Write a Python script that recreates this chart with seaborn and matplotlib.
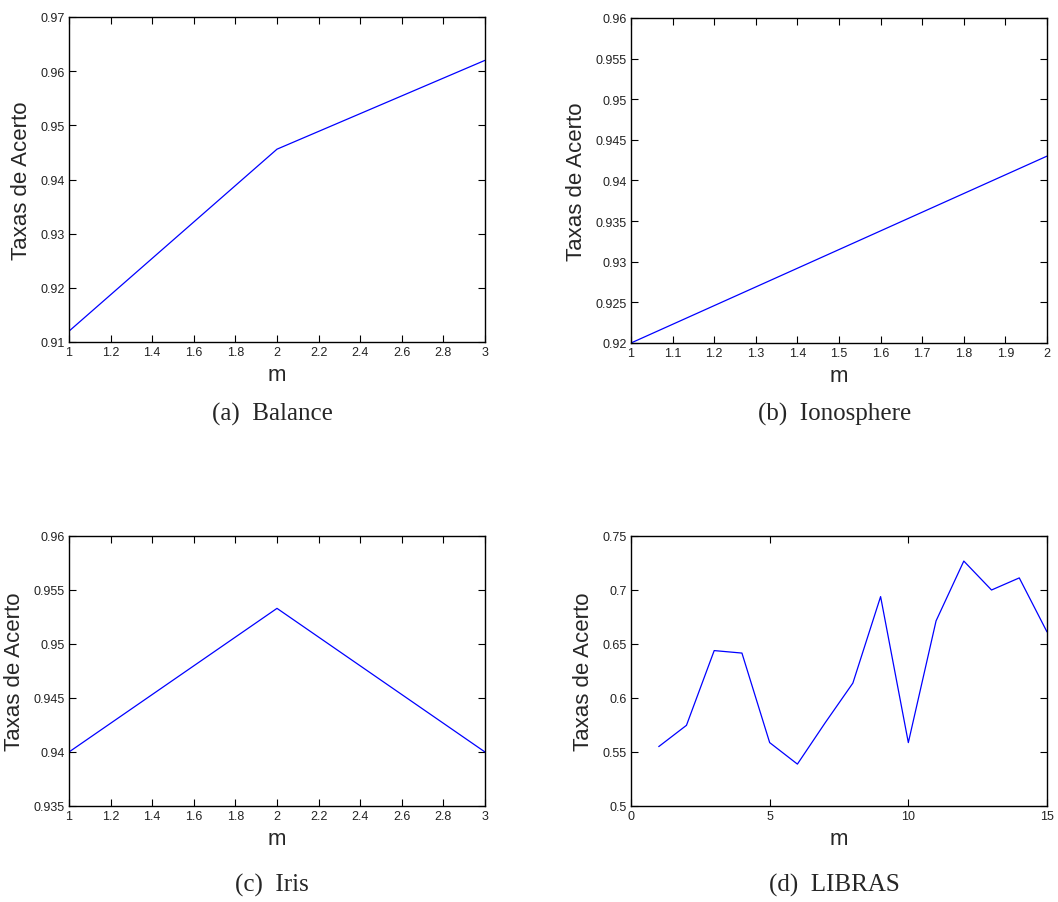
import matplotlib
matplotlib.use("Agg")
import matplotlib.pyplot as plt
import seaborn as sns
import pandas as pd
from matplotlib.ticker import MultipleLocator, FuncFormatter

sns.set_style("ticks")
plt.rcParams['font.family'] = ['Liberation Sans', 'DejaVu Sans']

# Data
balance_m = [1, 2, 3]
balance_acc = [0.912, 0.9456, 0.962]

iono_m = [1, 2]
iono_acc = [0.920, 0.943]

iris_m = [1, 2, 3]
iris_acc = [0.940, 0.9533, 0.940]

libras_m = list(range(1, 16))
libras_acc = [0.555, 0.5747, 0.6439, 0.6416, 0.5587, 0.5388, 0.577, 0.6138,
              0.6939, 0.5587, 0.6714, 0.7268, 0.700, 0.7112, 0.6612]

captions = ["(a)  Balance", "(b)  Ionosphere", "(c)  Iris", "(d)  LIBRAS"]

W, H = 1058, 903
fig = plt.figure(figsize=(W / 100, H / 100), dpi=100)

def px_axes(left, top, right, bottom):
    return fig.add_axes([left / W, 1 - bottom / H, (right - left) / W, (bottom - top) / H])

panels = [
    (px_axes(69, 18, 485, 343), balance_m, balance_acc, (1, 3), 0.2, (0.91, 0.97), 0.01, (272, 414)),
    (px_axes(631, 19, 1047, 344), iono_m, iono_acc, (1, 2), 0.1, (0.92, 0.96), 0.005, (835, 414)),
    (px_axes(69, 537, 485, 807), iris_m, iris_acc, (1, 3), 0.2, (0.935, 0.96), 0.005, (272, 885)),
    (px_axes(631, 537, 1047, 807), libras_m, libras_acc, (0, 15), 5, (0.5, 0.75), 0.05, (834, 885)),
]

fmt = FuncFormatter(lambda v, p: "%g" % round(v, 6))

for i, (ax, xs, ys, xl, xstep, yl, ystep, cap) in enumerate(panels):
    df = pd.DataFrame({"m": xs, "acc": ys})
    sns.lineplot(data=df, x="m", y="acc", ax=ax, color=(0, 0, 1), linewidth=0.9)
    ax.set_xlim(*xl)
    ax.set_ylim(*yl)
    ax.xaxis.set_major_locator(MultipleLocator(xstep))
    ax.yaxis.set_major_locator(MultipleLocator(ystep))
    ax.xaxis.set_major_formatter(fmt)
    ax.yaxis.set_major_formatter(fmt)
    ax.tick_params(direction="in", top=True, right=True, length=5, width=0.8,
                   labelsize=9, pad=3, colors="black", labelcolor="#222222")
    for s in ax.spines.values():
        s.set_visible(True)
        s.set_linewidth(1.0)
        s.set_color("black")
    ax.set_xlabel("m", fontsize=16, labelpad=4)
    ax.set_ylabel("Taxas de Acerto", fontsize=16, labelpad=6)
    fig.text(cap[0] / W, 1 - cap[1] / H, captions[i], ha="center", va="center",
             fontsize=18, family=["Liberation Serif", "DejaVu Serif"])

fig.savefig("out.png", dpi=100, facecolor="white")
